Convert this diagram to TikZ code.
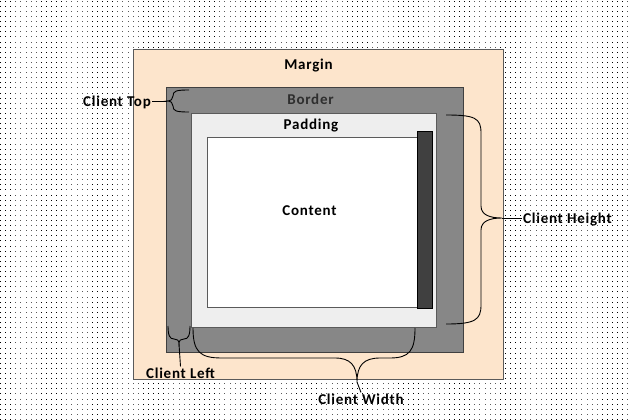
\documentclass[tikz,border=0pt]{standalone}
\usepackage{fontspec}
\setmainfont{Carlito}
\newfontfamily\lblfont{Carlito}[LetterSpace=5]
\usetikzlibrary{patterns}

\definecolor{marginfill}{HTML}{FDE5CC}
\definecolor{borderfill}{HTML}{878787}
\definecolor{paddingfill}{HTML}{EEEEEE}
\definecolor{barfill}{HTML}{404040}
\definecolor{bordertext}{HTML}{2E2E2E}
\definecolor{edge}{HTML}{5A5A5A}

\pgfdeclarepatternformonly{bgdots}{\pgfqpoint{0pt}{0pt}}{\pgfqpoint{1pt}{1pt}}{\pgfqpoint{5.1pt}{5.1pt}}{%
  \pgfpathrectangle{\pgfpointorigin}{\pgfqpoint{1pt}{1pt}}\pgfusepath{fill}}

\begin{document}
\begin{tikzpicture}[x=1pt, y=-1pt,
    box/.style={rectangle, draw=edge, line width=0.9pt, inner sep=0pt},
    lbl/.style={font=\lblfont\fontsize{15}{17}\selectfont\bfseries, inner sep=1pt},
    brace/.style={draw=black, line width=0.9pt}]
    \useasboundingbox (0,0) rectangle (629,420);
    \fill[white] (0,0) rectangle (629,420);
    \fill[pattern=bgdots, pattern color=black] (0,0) rectangle (629,420);

    % nested boxes
    \node [box, fill=marginfill, minimum width=370, minimum height=330] (margin) at (318,214) {};
    \node [box, fill=borderfill, draw=barfill, minimum width=297, minimum height=265] (border) at (314.5,219.5) {};
    \node [box, fill=paddingfill, minimum width=245, minimum height=214] (padding) at (313.5,220) {};
    \node [box, fill=white, minimum width=210, minimum height=170] (content) at (312,222) {};
    \node [box, fill=barfill, draw=black, minimum width=15, minimum height=177] (scrollbar) at (424.5,219.5) {};

    \node [lbl] (marginlbl) at (308.5,66) {Margin};
    \node [lbl, text=bordertext] (borderlbl) at (310.5,99) {Border};
    \node [lbl] (paddinglbl) at (311,126) {Padding};
    \node [lbl] (contentlbl) at (309.5,211) {Content};

    % client labels
    \node [lbl, anchor=east] (clienttop) at (152,102) {Client Top};
    \node [lbl, anchor=west] (clientheight) at (522,220) {Client Height};
    \node [lbl] (clientleft) at (180.5,373) {Client Left};
    \node [lbl] (clientwidth) at (361,399) {Client Width};

    \coordinate (toptip) at (167,101);
    \coordinate (heighttip) at (502,218);
    \coordinate (lefttip) at (179,344);
    \coordinate (widthtip) at (357,382);

    % braces
    \draw [brace] (189,90) .. controls (176,90) and (173,91) .. (173,96)
        .. controls (173,99) and (171,101) .. (toptip)
        .. controls (171,101) and (173,103) .. (173,106)
        .. controls (173,111) and (176,112) .. (189,112);
    \draw [brace] (446,115) .. controls (475,115) and (481,118) .. (481,133) -- (481,206)
        .. controls (481,215) and (490,218) .. (heighttip)
        .. controls (490,218) and (481,221) .. (481,230) -- (481,305)
        .. controls (481,320) and (475,324) .. (446,324);
    \draw [brace] (168,326) .. controls (168,336) and (170,339) .. (174,339)
        .. controls (177,339) and (179,340) .. (lefttip)
        .. controls (179,340) and (181,339) .. (184,339)
        .. controls (188,339) and (190,336) .. (190,326);
    \draw [brace] (193,328) .. controls (193,352) and (200,358) .. (222,358) -- (335,358)
        .. controls (350,358) and (357,365) .. (widthtip)
        .. controls (357,365) and (364,358) .. (380,358) -- (390,358)
        .. controls (410,358) and (415,350) .. (415,328);

    \draw [brace] (toptip) -- (toptip -| clienttop.east);
    \draw [brace] (heighttip) -- (heighttip -| clientheight.west);
    \draw [brace] (lefttip) -- (clientleft.north);
    \draw [brace] (widthtip) -- (clientwidth.north);
\end{tikzpicture}
\end{document}
